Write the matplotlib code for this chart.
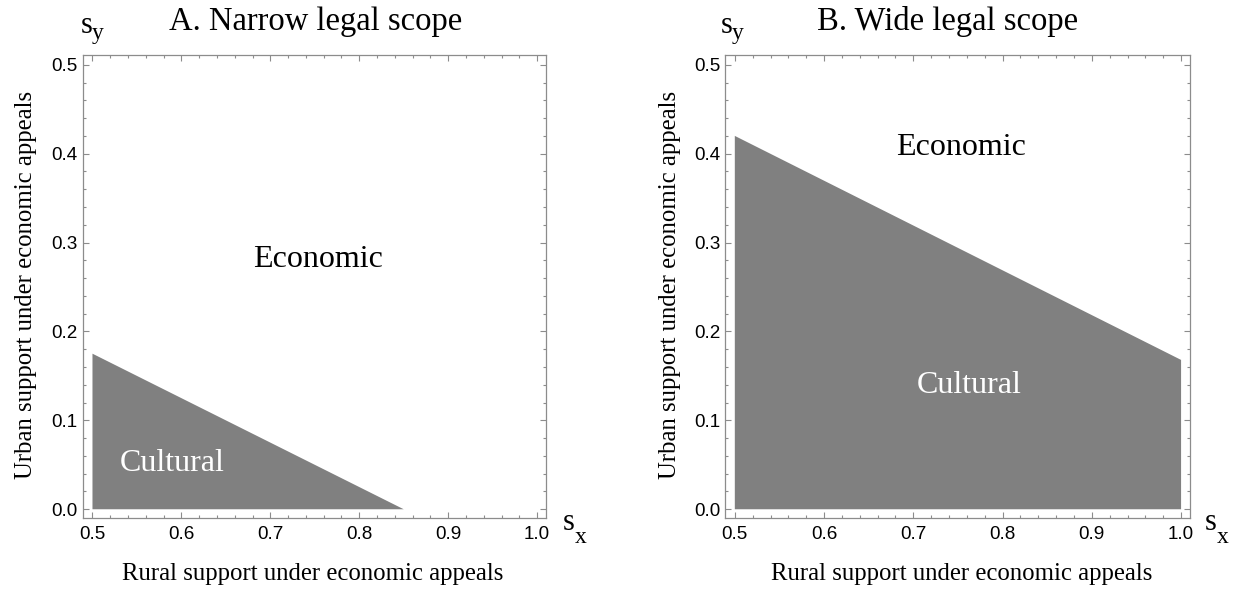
import matplotlib
matplotlib.use("Agg")
import matplotlib.pyplot as plt
from matplotlib.ticker import MultipleLocator

# ---- data ----
panel_titles = ["A. Narrow legal scope", "B. Wide legal scope"]
# boundary of the "Cultural" region (polygon vertices)
narrow_x = [0.5, 0.5, 0.85]
narrow_y = [0.0, 0.175, 0.0]
wide_x = [0.5, 0.5, 1.0, 1.0]
wide_y = [0.0, 0.42, 0.168, 0.0]
region_labels = ["Economic", "Cultural"]
# label anchor positions (data coords, baseline)
narrow_label_pos = [(0.754, 0.273), (0.590, 0.0434)]
wide_label_pos = [(0.753, 0.398), (0.763, 0.131)]
xticks = [0.5, 0.6, 0.7, 0.8, 0.9, 1.0]
yticks = [0.0, 0.1, 0.2, 0.3, 0.4, 0.5]
xlabel = "Rural support under economic appeals"
ylabel = "Urban support under economic appeals"

W, H = 1233, 589
fig = plt.figure(figsize=(W / 100, H / 100), dpi=100)

serif = "Liberation Serif"
sans = "Liberation Sans"
frame_col = "#8c8c8c"
fill_col = "#808080"

def fx(px):
    return px / W

def fy(py):
    return 1 - py / H

ax_rects = [
    (fx(82.7), fy(517.7), fx(546) - fx(82.7), fy(55) - fy(517.7)),
    (fx(725), fy(517.7), fx(1190) - fx(725), fy(55) - fy(517.7)),
]
polys = [(narrow_x, narrow_y), (wide_x, wide_y)]
label_pos = [narrow_label_pos, wide_label_pos]
title_cx = [316, 948]
xlabel_cx = [313, 962]
ylabel_cx = [26, 670]
sy_x = [81, 721]
sx_x = [563, 1205]

for i in range(2):
    ax = fig.add_axes(ax_rects[i])
    ax.fill(polys[i][0], polys[i][1], color=fill_col, lw=0)
    ax.set_xlim(0.489, 1.010)
    ax.set_ylim(-0.0095, 0.511)
    ax.set_xticks(xticks)
    ax.set_yticks(yticks)
    ax.set_xticklabels([f"{v:.1f}" for v in xticks], fontfamily=sans, fontsize=13.6)
    ax.set_yticklabels([f"{v:.1f}" for v in yticks], fontfamily=sans, fontsize=13.6)
    ax.xaxis.set_minor_locator(MultipleLocator(0.02))
    ax.yaxis.set_minor_locator(MultipleLocator(0.02))
    ax.tick_params(which="both", direction="in", top=True, right=True,
                   color=frame_col, width=0.8)
    ax.tick_params(which="major", length=4.2)
    ax.tick_params(which="minor", length=2.4)
    ax.tick_params(axis="x", which="major", pad=6)
    ax.tick_params(axis="y", which="major", pad=3.5)
    for s in ax.spines.values():
        s.set_color(frame_col)
        s.set_linewidth(0.9)
    (ex, ey), (cx, cy) = label_pos[i]
    ax.text(ex, ey, region_labels[0], ha="center", va="baseline",
            fontfamily=serif, fontsize=23, color="black")
    ax.text(cx, cy, region_labels[1], ha="center", va="baseline",
            fontfamily=serif, fontsize=23, color="white")

    fig.text(fx(title_cx[i]), fy(30), panel_titles[i], ha="center", va="baseline",
             fontfamily=serif, fontsize=23.5)
    fig.text(fx(xlabel_cx[i]), fy(580), xlabel, ha="center", va="baseline",
             fontfamily=serif, fontsize=17.8)
    fig.text(fx(ylabel_cx[i]), fy(285), ylabel, ha="center", va="center",
             rotation=90, fontfamily=serif, fontsize=17.8)
    # axis symbols s_y and s_x
    fig.text(fx(sy_x[i]), fy(33), "s", ha="left", va="baseline",
             fontfamily=serif, fontsize=22)
    fig.text(fx(sy_x[i] + 11), fy(39), "y", ha="left", va="baseline",
             fontfamily=serif, fontsize=17)
    fig.text(fx(sx_x[i]), fy(530), "s", ha="left", va="baseline",
             fontfamily=serif, fontsize=22)
    fig.text(fx(sx_x[i] + 12), fy(543), "x", ha="left", va="baseline",
             fontfamily=serif, fontsize=17)

fig.savefig("out.png", dpi=100, facecolor="white")
